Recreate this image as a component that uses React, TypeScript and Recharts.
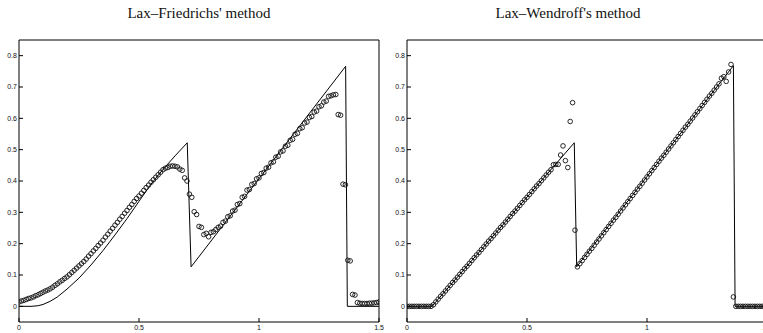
import React from 'react';
import { ComposedChart, Line, Scatter, XAxis, YAxis } from 'recharts';

// grid nodes (dx = 0.01)
const GRID_X = [
  0.00, 0.01, 0.02, 0.03, 0.04, 0.05, 0.06, 0.07, 0.08, 0.09,
  0.10, 0.11, 0.12, 0.13, 0.14, 0.15, 0.16, 0.17, 0.18, 0.19,
  0.20, 0.21, 0.22, 0.23, 0.24, 0.25, 0.26, 0.27, 0.28, 0.29,
  0.30, 0.31, 0.32, 0.33, 0.34, 0.35, 0.36, 0.37, 0.38, 0.39,
  0.40, 0.41, 0.42, 0.43, 0.44, 0.45, 0.46, 0.47, 0.48, 0.49,
  0.50, 0.51, 0.52, 0.53, 0.54, 0.55, 0.56, 0.57, 0.58, 0.59,
  0.60, 0.61, 0.62, 0.63, 0.64, 0.65, 0.66, 0.67, 0.68, 0.69,
  0.70, 0.71, 0.72, 0.73, 0.74, 0.75, 0.76, 0.77, 0.78, 0.79,
  0.80, 0.81, 0.82, 0.83, 0.84, 0.85, 0.86, 0.87, 0.88, 0.89,
  0.90, 0.91, 0.92, 0.93, 0.94, 0.95, 0.96, 0.97, 0.98, 0.99,
  1.00, 1.01, 1.02, 1.03, 1.04, 1.05, 1.06, 1.07, 1.08, 1.09,
  1.10, 1.11, 1.12, 1.13, 1.14, 1.15, 1.16, 1.17, 1.18, 1.19,
  1.20, 1.21, 1.22, 1.23, 1.24, 1.25, 1.26, 1.27, 1.28, 1.29,
  1.30, 1.31, 1.32, 1.33, 1.34, 1.35, 1.36, 1.37, 1.38, 1.39,
  1.40, 1.41, 1.42, 1.43, 1.44, 1.45, 1.46, 1.47, 1.48, 1.49,
  1.50,
];

// Lax-Friedrichs numerical solution
const LF_U = [
  0.014, 0.017, 0.019, 0.022, 0.025, 0.027, 0.030, 0.034, 0.037, 0.041,
  0.045, 0.049, 0.052, 0.056, 0.061, 0.067, 0.072, 0.078, 0.083, 0.089,
  0.094, 0.101, 0.108, 0.115, 0.122, 0.129, 0.136, 0.143, 0.151, 0.160,
  0.168, 0.177, 0.185, 0.194, 0.202, 0.211, 0.221, 0.230, 0.240, 0.249,
  0.259, 0.268, 0.278, 0.287, 0.297, 0.306, 0.316, 0.325, 0.335, 0.344,
  0.352, 0.361, 0.370, 0.379, 0.387, 0.396, 0.404, 0.412, 0.420, 0.428,
  0.436, 0.441, 0.443, 0.447, 0.448, 0.447, 0.445, 0.438, 0.434, 0.410,
  0.400, 0.358, 0.348, 0.302, 0.293, 0.255, 0.252, 0.229, 0.233, 0.222,
  0.236, 0.238, 0.245, 0.252, 0.256, 0.268, 0.272, 0.286, 0.289, 0.304,
  0.307, 0.325, 0.328, 0.348, 0.351, 0.371, 0.373, 0.389, 0.392, 0.407,
  0.410, 0.424, 0.427, 0.441, 0.444, 0.458, 0.461, 0.476, 0.479, 0.493,
  0.496, 0.511, 0.514, 0.530, 0.533, 0.549, 0.552, 0.567, 0.570, 0.585,
  0.588, 0.603, 0.606, 0.620, 0.623, 0.637, 0.640, 0.652, 0.655, 0.670,
  0.672, 0.675, 0.676, 0.612, 0.610, 0.390, 0.388, 0.147, 0.145, 0.038,
  0.036, 0.012, 0.010, 0.009, 0.009, 0.009, 0.010, 0.010, 0.011, 0.012,
  0.014,
];

// Lax-Wendroff numerical solution
const LW_U = [
  0.000, 0.000, 0.000, 0.000, 0.000, 0.000, 0.000, 0.000, 0.000, 0.000,
  0.000, 0.005, 0.014, 0.023, 0.032, 0.040, 0.049, 0.058, 0.067, 0.076,
  0.084, 0.093, 0.102, 0.111, 0.120, 0.128, 0.137, 0.146, 0.155, 0.164,
  0.172, 0.181, 0.190, 0.199, 0.208, 0.216, 0.225, 0.234, 0.243, 0.252,
  0.260, 0.269, 0.278, 0.287, 0.296, 0.304, 0.313, 0.322, 0.331, 0.340,
  0.348, 0.357, 0.366, 0.375, 0.384, 0.392, 0.401, 0.410, 0.419, 0.428,
  0.436, 0.452, 0.453, 0.453, 0.483, 0.512, 0.465, 0.443, 0.590, 0.650,
  0.243, 0.126, 0.136, 0.146, 0.156, 0.166, 0.176, 0.185, 0.195, 0.205,
  0.215, 0.225, 0.235, 0.245, 0.255, 0.265, 0.275, 0.284, 0.294, 0.304,
  0.314, 0.324, 0.334, 0.344, 0.354, 0.364, 0.374, 0.383, 0.393, 0.403,
  0.413, 0.423, 0.433, 0.443, 0.453, 0.463, 0.473, 0.482, 0.492, 0.502,
  0.512, 0.522, 0.532, 0.542, 0.552, 0.562, 0.572, 0.581, 0.591, 0.601,
  0.611, 0.621, 0.631, 0.641, 0.651, 0.661, 0.671, 0.680, 0.690, 0.700,
  0.710, 0.728, 0.733, 0.718, 0.748, 0.772, 0.030, 0.000, 0.000, 0.000,
  0.000, 0.000, 0.000, 0.000, 0.000, 0.000, 0.000, 0.000, 0.000, 0.000,
  0.000,
];

// exact solutions (solid lines)
const LF_EXACT_X = [0, 0.05, 0.08, 0.10, 0.13, 0.16, 0.20, 0.25, 0.30, 0.35, 0.40, 0.45, 0.50, 0.55, 0.60, 0.65, 0.701, 0.717, 1.361, 1.368, 1.5];
const LF_EXACT_Y = [0, 0, 0.002, 0.006, 0.016, 0.03, 0.055, 0.09, 0.132, 0.178, 0.228, 0.28, 0.335, 0.39, 0.437, 0.48, 0.522, 0.126, 0.766, 0, 0];
const LW_EXACT_X = [0, 0.104, 0.697, 0.707, 1.36, 1.367, 1.5];
const LW_EXACT_Y = [0, 0, 0.522, 0.126, 0.768, 0, 0];

const X_TICKS = [0, 0.5, 1, 1.5];
const Y_TICKS = [0, 0.1, 0.2, 0.3, 0.4, 0.5, 0.6, 0.7, 0.8];

const TITLES = ["Lax\u2013Friedrichs' method", "Lax\u2013Wendroff's method"];

const zip = (xs: number[], ys: number[]) => xs.map((x, i) => ({ x, y: ys[i] }));

const tickFont = { fontSize: 7, fill: '#111', fontFamily: 'Liberation Sans, Arial, sans-serif' };

const Ring = (props: any) => {
  const { cx, cy } = props;
  if (cx == null || cy == null) return null;
  return <circle cx={cx} cy={cy} r={2.3} fill="none" stroke="#111" strokeWidth={0.9} />;
};

const Panel = ({ title, left, titleCenter, line, dots }: { title: string; left: number; titleCenter: number; line: any[]; dots: any[] }) => (
  <div style={{ position: 'absolute', left, top: 0, width: 390, height: 333 }}>
    <div
      style={{
        position: 'absolute', left: titleCenter - 150, top: 5, width: 300, textAlign: 'center',
        fontFamily: 'Liberation Serif, DejaVu Serif, serif', fontSize: 15, lineHeight: '16px', color: '#111',
      }}
    >
      {title}
    </div>
    <ComposedChart width={390} height={333} margin={{ top: 39, left: 18, right: 10, bottom: 10 }}>
      <XAxis xAxisId="b" type="number" dataKey="x" domain={[0, 1.5]} ticks={X_TICKS} height={1}
        axisLine={{ stroke: '#000' }} tickLine={{ stroke: '#000' }} tickSize={-4} tickMargin={7}
        tick={tickFont} interval={0} allowDataOverflow />
      <XAxis xAxisId="t" orientation="top" type="number" dataKey="x" domain={[0, 1.5]} ticks={X_TICKS} height={1}
        axisLine={{ stroke: '#000' }} tickLine={{ stroke: '#000' }} tickSize={-4} tick={false} allowDataOverflow />
      <YAxis yAxisId="l" type="number" dataKey="y" domain={[-0.05, 0.85]} ticks={Y_TICKS} width={1}
        axisLine={{ stroke: '#000' }} tickLine={{ stroke: '#000' }} tickSize={-4} tickMargin={6}
        tick={tickFont} interval={0} allowDataOverflow />
      <YAxis yAxisId="r" orientation="right" type="number" domain={[-0.05, 0.85]} ticks={Y_TICKS} width={1}
        axisLine={{ stroke: '#000' }} tickLine={{ stroke: '#000' }} tickSize={-4} tick={false} allowDataOverflow />
      <Line xAxisId="b" yAxisId="l" data={line} dataKey="y" type="linear" stroke="#000" strokeWidth={1}
        dot={false} activeDot={false} isAnimationActive={false} />
      <Scatter xAxisId="b" yAxisId="l" data={dots} dataKey="y" shape={Ring} isAnimationActive={false} />
    </ComposedChart>
  </div>
);

export default function App() {
  return (
    <div style={{ position: 'fixed', left: 0, top: 0, width: 763, height: 333, overflow: 'hidden', background: '#fff' }}>
      <Panel title={TITLES[0]} left={0} titleCenter={199} line={zip(LF_EXACT_X, LF_EXACT_Y)} dots={zip(GRID_X, LF_U)} />
      <Panel title={TITLES[1]} left={388} titleCenter={180} line={zip(LW_EXACT_X, LW_EXACT_Y)} dots={zip(GRID_X, LW_U)} />
    </div>
  );
}
